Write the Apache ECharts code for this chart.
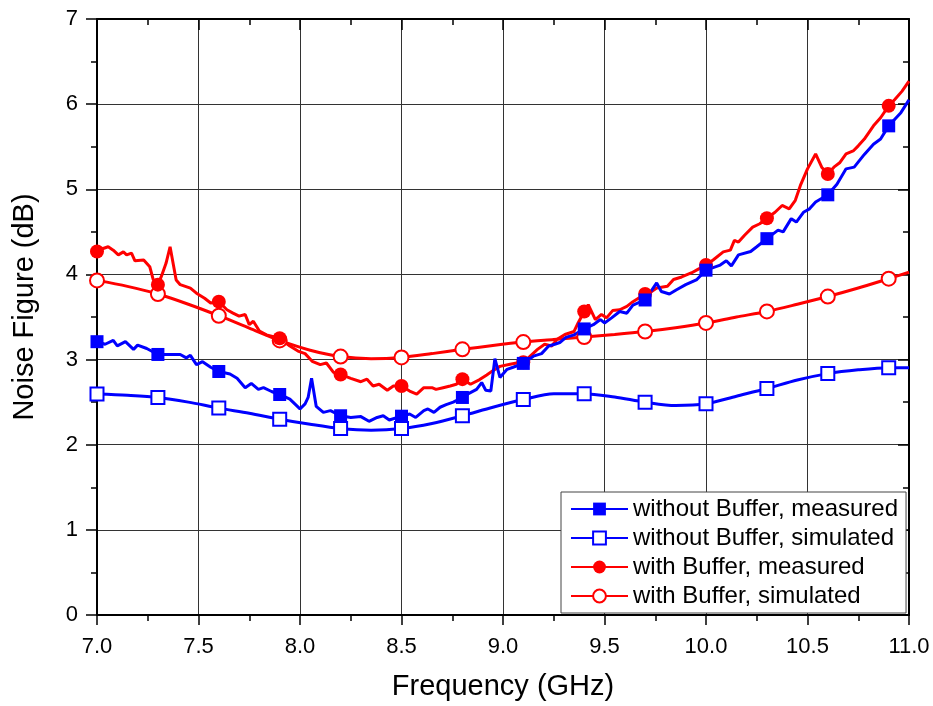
<!DOCTYPE html>
<html>
<head>
<meta charset="utf-8">
<title>Noise Figure vs Frequency</title>
<script src="https://cdn.jsdelivr.net/npm/echarts@6/dist/echarts.min.js"></script>
<style>
  html, body { margin: 0; padding: 0; background: #fff; }
  #chart { width: 933px; height: 706px; }
</style>
</head>
<body>
<div id="chart"></div>
<script>
// ---- Data -------------------------------------------------------------

// Axis tick labels
const xTickLabels = ['7.0', '7.5', '8.0', '8.5', '9.0', '9.5', '10.0', '10.5', '11.0'];
const yTickLabels = ['0', '1', '2', '3', '4', '5', '6', '7'];

// Frequencies (GHz) carrying a marker symbol
const markerFreqs = [7.0, 7.3, 7.6, 7.9, 8.2, 8.5, 8.8, 9.1, 9.4, 9.7, 10.0, 10.3, 10.6, 10.9];

// Without buffer, measured
const blueMeasFreq = [
  7.00, 7.04, 7.08, 7.10, 7.14, 7.18, 7.20, 7.245, 7.30, 7.36, 7.41, 7.44, 7.46, 7.49, 7.52, 7.56,
  7.60, 7.655, 7.69, 7.73, 7.76, 7.795, 7.82, 7.86, 7.90, 7.95, 8.00, 8.025, 8.04, 8.057, 8.08, 8.115,
  8.15, 8.20, 8.25, 8.30, 8.34, 8.38, 8.41, 8.44, 8.50, 8.54, 8.57, 8.61, 8.63, 8.66, 8.69, 8.72,
  8.755, 8.80, 8.83, 8.87, 8.895, 8.915, 8.94, 8.96, 8.985, 9.02, 9.05, 9.10, 9.15, 9.19, 9.225, 9.255,
  9.28, 9.31, 9.35, 9.40, 9.445, 9.48, 9.50, 9.535, 9.575, 9.61, 9.64, 9.70, 9.757, 9.78, 9.82, 9.855,
  9.90, 9.955, 10.00, 10.07, 10.10, 10.125, 10.16, 10.22, 10.25, 10.30, 10.355, 10.38, 10.42, 10.445, 10.48, 10.51,
  10.54, 10.60, 10.645, 10.69, 10.73, 10.78, 10.825, 10.86, 10.90, 10.96, 11.00
];
const blueMeasNF = [
  3.21, 3.18, 3.225, 3.16, 3.21, 3.12, 3.17, 3.13, 3.06, 3.06, 3.06, 3.02, 3.05, 2.94, 2.975, 2.91,
  2.86, 2.83, 2.78, 2.67, 2.72, 2.65, 2.67, 2.625, 2.59, 2.535, 2.42, 2.48, 2.555, 2.78, 2.45, 2.38,
  2.40, 2.34, 2.32, 2.33, 2.275, 2.32, 2.34, 2.29, 2.335, 2.36, 2.32, 2.40, 2.42, 2.38, 2.44, 2.47,
  2.50, 2.555, 2.60, 2.65, 2.73, 2.64, 2.63, 3.01, 2.79, 2.885, 2.91, 2.955, 3.04, 3.07, 3.16, 3.18,
  3.20, 3.26, 3.29, 3.36, 3.41, 3.47, 3.43, 3.49, 3.565, 3.545, 3.64, 3.70, 3.90, 3.80, 3.77, 3.82,
  3.88, 3.94, 4.05, 4.11, 4.16, 4.10, 4.23, 4.27, 4.325, 4.42, 4.52, 4.50, 4.655, 4.615, 4.73, 4.77,
  4.85, 4.935, 5.06, 5.24, 5.26, 5.41, 5.53, 5.59, 5.745, 5.90, 6.05
];

// With buffer, measured
const redMeasFreq = [
  7.00, 7.03, 7.055, 7.08, 7.105, 7.13, 7.146, 7.17, 7.187, 7.23, 7.26, 7.277, 7.30, 7.32, 7.34, 7.36,
  7.39, 7.41, 7.46, 7.49, 7.53, 7.56, 7.60, 7.64, 7.67, 7.70, 7.73, 7.75, 7.77, 7.80, 7.835, 7.90,
  7.95, 7.99, 8.025, 8.06, 8.10, 8.13, 8.165, 8.20, 8.25, 8.30, 8.33, 8.36, 8.39, 8.43, 8.46, 8.50,
  8.54, 8.575, 8.61, 8.65, 8.67, 8.705, 8.74, 8.77, 8.80, 8.84, 8.885, 8.92, 8.95, 8.985, 9.035, 9.08,
  9.10, 9.125, 9.17, 9.205, 9.24, 9.265, 9.305, 9.35, 9.37, 9.40, 9.42, 9.455, 9.485, 9.51, 9.54, 9.575,
  9.61, 9.64, 9.70, 9.72, 9.757, 9.81, 9.84, 9.88, 9.93, 9.96, 10.00, 10.035, 10.085, 10.12, 10.14, 10.16,
  10.19, 10.23, 10.265, 10.30, 10.34, 10.375, 10.41, 10.44, 10.465, 10.50, 10.54, 10.57, 10.60, 10.63, 10.66, 10.69,
  10.725, 10.75, 10.78, 10.825, 10.86, 10.90, 10.93, 10.965, 11.00
];
const redMeasNF = [
  4.27, 4.305, 4.325, 4.285, 4.23, 4.265, 4.23, 4.25, 4.16, 4.17, 4.09, 3.94, 3.88, 3.995, 4.13, 4.325,
  3.935, 3.88, 3.84, 3.78, 3.72, 3.665, 3.68, 3.585, 3.545, 3.51, 3.53, 3.41, 3.45, 3.335, 3.29, 3.25,
  3.16, 3.10, 3.07, 2.98, 2.94, 2.96, 2.85, 2.825, 2.78, 2.74, 2.77, 2.69, 2.71, 2.64, 2.69, 2.69,
  2.63, 2.595, 2.67, 2.67, 2.65, 2.67, 2.69, 2.71, 2.77, 2.71, 2.765, 2.82, 2.87, 2.92, 2.945, 2.965,
  2.97, 3.02, 3.12, 3.18, 3.16, 3.235, 3.295, 3.33, 3.43, 3.565, 3.645, 3.47, 3.53, 3.49, 3.575, 3.585,
  3.625, 3.68, 3.77, 3.78, 3.84, 3.86, 3.94, 3.97, 4.02, 4.06, 4.11, 4.17, 4.265, 4.285, 4.40, 4.38,
  4.46, 4.555, 4.595, 4.66, 4.73, 4.81, 4.77, 4.87, 5.045, 5.24, 5.415, 5.26, 5.18, 5.26, 5.315, 5.415,
  5.45, 5.51, 5.59, 5.745, 5.84, 5.98, 6.055, 6.15, 6.27
];

// Simulated curves (both configurations share the frequency grid)
const simFreq = [
  7.0, 7.15, 7.3, 7.45, 7.6, 7.75, 7.9, 8.05, 8.2, 8.35, 8.5, 8.65, 8.8, 8.95,
  9.1, 9.25, 9.4, 9.55, 9.7, 9.85, 10.0, 10.15, 10.3, 10.45, 10.6, 10.75, 10.9, 11.0
];
const blueSimNF = [
  2.595, 2.58, 2.555, 2.50, 2.43, 2.37, 2.30, 2.24, 2.19, 2.17, 2.19, 2.25, 2.34, 2.44,
  2.53, 2.60, 2.60, 2.56, 2.50, 2.46, 2.48, 2.57, 2.66, 2.76, 2.835, 2.88, 2.905, 2.905
];
const redSimNF = [
  3.93, 3.86, 3.77, 3.65, 3.515, 3.37, 3.225, 3.11, 3.035, 3.01, 3.025, 3.07, 3.12, 3.165,
  3.205, 3.235, 3.265, 3.295, 3.33, 3.375, 3.43, 3.50, 3.565, 3.65, 3.74, 3.84, 3.95, 4.025
];

// ---- Chart ------------------------------------------------------------

const FONT = "'Liberation Sans', Arial, Helvetica, sans-serif";
const BLUE = '#0000ff';
const RED = '#ff0000';
const X_MIN = 7, X_MAX = 11, X_STEP = 0.5;
const Y_MIN = 0, Y_MAX = 7, Y_STEP = 1;

const hasMarker = f => markerFreqs.some(m => Math.abs(m - f) < 1e-6);

// Pair frequencies with values; points off the marker grid draw no symbol
function buildData(freqs, values) {
  return freqs.map((f, i) => hasMarker(f)
    ? { value: [f, values[i]] }
    : { value: [f, values[i]], symbol: 'none' });
}

function makeSeries(name, freqs, values, color, symbol, size, smooth) {
  return {
    name: name,
    type: 'line',
    data: buildData(freqs, values),
    symbol: symbol,
    symbolSize: size,
    showAllSymbol: true,
    smooth: smooth,
    color: color,
    lineStyle: { color: color, width: 3 },
    itemStyle: { color: color, borderWidth: 1.5 },
    emphasis: { disabled: true },
    animation: false
  };
}

const names = [
  'without Buffer, measured',
  'without Buffer, simulated',
  'with Buffer, measured',
  'with Buffer, simulated'
];

const axisLineStyle = { color: '#000', width: 2 };
const tickStyle = { color: '#000', width: 1.5 };

const chart = echarts.init(document.getElementById('chart'), null, { renderer: 'canvas' });

chart.setOption({
  backgroundColor: '#fff',
  animation: false,
  textStyle: { fontFamily: FONT },
  grid: { left: 97, right: 24, top: 19, bottom: 87, containLabel: false },
  xAxis: [
    {
      type: 'value', min: X_MIN, max: X_MAX, interval: X_STEP,
      position: 'bottom',
      name: 'Frequency (GHz)', nameLocation: 'middle', nameGap: 57,
      nameTextStyle: { fontSize: 29, color: '#000', fontFamily: FONT },
      axisLine: { show: true, onZero: false, lineStyle: axisLineStyle },
      axisTick: { show: true, inside: false, length: 10, lineStyle: tickStyle },
      minorTick: { show: true, splitNumber: 2, length: 6, lineStyle: tickStyle },
      axisLabel: {
        margin: 21, fontSize: 22, color: '#000', fontFamily: FONT,
        formatter: v => xTickLabels[Math.round((v - X_MIN) / X_STEP)]
      },
      splitLine: { show: true, lineStyle: { color: '#333', width: 1 } }
    },
    {
      type: 'value', min: X_MIN, max: X_MAX, interval: X_STEP,
      position: 'top',
      axisLine: { show: true, onZero: false, lineStyle: axisLineStyle },
      axisTick: { show: true, inside: true, length: 11, lineStyle: tickStyle },
      minorTick: { show: true, splitNumber: 2, length: 6, lineStyle: tickStyle },
      axisLabel: { show: false },
      splitLine: { show: false }
    }
  ],
  yAxis: [
    {
      type: 'value', min: Y_MIN, max: Y_MAX, interval: Y_STEP,
      position: 'left',
      axisLine: { show: true, onZero: false, lineStyle: axisLineStyle },
      axisTick: { show: true, inside: false, length: 11, lineStyle: tickStyle },
      minorTick: { show: true, splitNumber: 2, length: 6, lineStyle: tickStyle },
      axisLabel: {
        margin: 19, fontSize: 22, color: '#000', fontFamily: FONT,
        formatter: v => yTickLabels[Math.round((v - Y_MIN) / Y_STEP)]
      },
      splitLine: { show: true, lineStyle: { color: '#333', width: 1 } }
    },
    {
      type: 'value', min: Y_MIN, max: Y_MAX, interval: Y_STEP,
      position: 'right',
      axisLine: { show: true, onZero: false, lineStyle: axisLineStyle },
      axisTick: { show: true, inside: true, length: 11, lineStyle: tickStyle },
      minorTick: { show: true, splitNumber: 2, length: 6, lineStyle: tickStyle },
      axisLabel: { show: false },
      splitLine: { show: false }
    }
  ],
  legend: {
    data: names,
    orient: 'vertical',
    left: 561, top: 492,
    itemWidth: 57, itemHeight: 16, itemGap: 5,
    padding: [5, 8, 5, 9],
    backgroundColor: '#fff',
    borderColor: '#444', borderWidth: 1, borderRadius: 0,
    selectedMode: false,
    textStyle: { fontFamily: FONT, fontSize: 24, lineHeight: 24, color: '#000' }
  },
  graphic: [
    {
      type: 'text',
      x: 25, y: 307,
      rotation: Math.PI / 2,
      style: {
        text: 'Noise Figure (dB)',
        font: "29px " + FONT,
        fill: '#000',
        align: 'center',
        verticalAlign: 'middle'
      }
    }
  ],
  series: [
    makeSeries(names[3], simFreq, redSimNF, RED, 'emptyCircle', 14, 0.3),
    makeSeries(names[2], redMeasFreq, redMeasNF, RED, 'circle', 14, false),
    makeSeries(names[1], simFreq, blueSimNF, BLUE, 'emptyRect', 13, 0.3),
    makeSeries(names[0], blueMeasFreq, blueMeasNF, BLUE, 'rect', 13, false)
  ]
});
</script>
</body>
</html>
